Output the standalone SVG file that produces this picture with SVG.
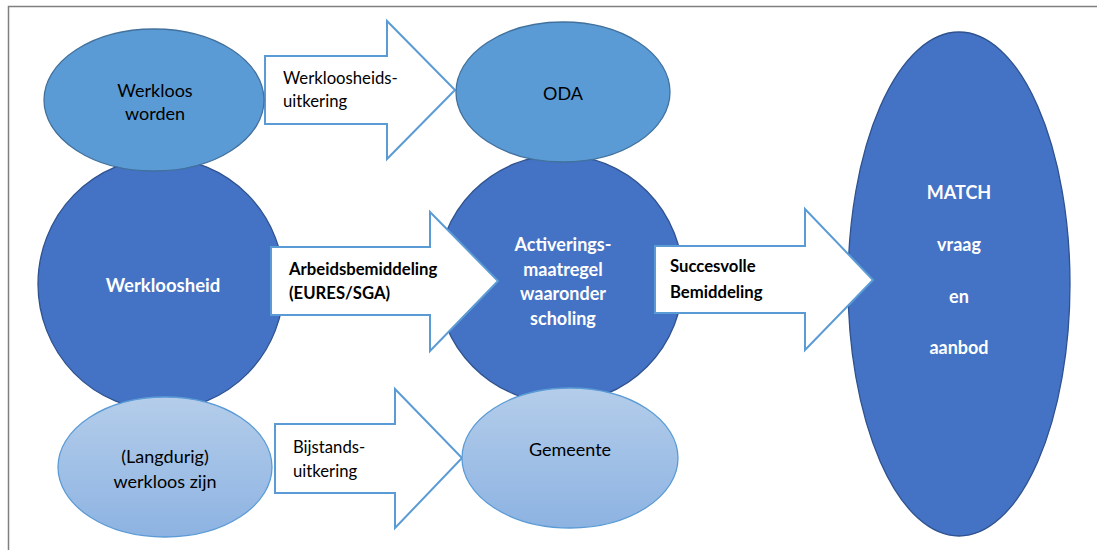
<svg xmlns="http://www.w3.org/2000/svg" width="1097" height="550" viewBox="0 0 1097 550">
<defs>
<linearGradient id="lg" x1="0" y1="0" x2="0" y2="1">
<stop offset="0" stop-color="#B4CDEA"/>
<stop offset="1" stop-color="#8DB3E2"/>
</linearGradient>
<style>
.mid{fill:#5B9BD5;stroke:#41719C;stroke-width:1.3}
.dark{fill:#4472C4;stroke:#2F528F;stroke-width:1.3}
.light{fill:url(#lg);stroke:#5B9BD5;stroke-width:1.3}
.arr{fill:#fff;stroke:#5B9BD5;stroke-width:2}
text{font-family:Lato,"Open Sans","Liberation Sans",sans-serif;font-size:18px}
.l{font-size:16.7px}
.c{text-anchor:middle}
.b{font-weight:bold}
.w{fill:#fff}
.k{fill:#000}
</style>
</defs>
<rect width="1097" height="550" fill="#fff"/>
<path d="M8.5 550V6.5H1097" fill="none" stroke="#7F7F7F" stroke-width="1.5"/>

<g id="werkloosheid">
<ellipse class="dark" cx="161" cy="284" rx="123" ry="126"/>
<text class="c b w" x="163" y="292" style="font-size:18.5px">Werkloosheid</text>
</g>
<g id="activering">
<ellipse class="dark" cx="560" cy="279" rx="123" ry="124"/>
<text class="c b w" x="563" y="251">Activerings-</text>
<text class="c b w" x="563" y="276">maatregel</text>
<text class="c b w" x="563" y="300">waaronder</text>
<text class="c b w" x="563" y="325">scholing</text>
</g>
<g id="match">
<ellipse class="dark" cx="959" cy="284" rx="111" ry="252"/>
<text class="c b w" x="959" y="199">MATCH</text>
<text class="c b w" x="959" y="251">vraag</text>
<text class="c b w" x="959" y="303">en</text>
<text class="c b w" x="959" y="354">aanbod</text>
</g>

<g id="connectors">
<g id="arrow-werkloosheidsuitkering">
<path class="arr" d="M265 56H387V21L455 90L387 159V124H265Z"/>
<text class="k l" x="283" y="84">Werkloosheids-</text>
<text class="k l" x="283" y="107">uitkering</text>
</g>
<g id="arrow-arbeidsbemiddeling">
<path class="arr" d="M271 247H430V212L498 281L430 351V315H271Z"/>
<text class="k b l" x="289" y="275">Arbeidsbemiddeling</text>
<text class="k b l" x="289" y="299">(EURES/SGA)</text>
</g>
<g id="arrow-bijstandsuitkering">
<path class="arr" d="M275 424H395V389L462 458L395 528V493H275Z"/>
<text class="k l" x="293" y="453">Bijstands-</text>
<text class="k l" x="293" y="477">uitkering</text>
</g>
<g id="arrow-succesvolle">
<path class="arr" d="M655 246H805V209L873 280L805 350V313H655Z"/>
<text class="k b l" x="670" y="272">Succesvolle</text>
<text class="k b l" x="670" y="298">Bemiddeling</text>
</g>
</g>

<g id="werkloos-worden">
<ellipse class="mid" cx="154" cy="100" rx="110" ry="71"/>
<text class="c k" x="155" y="97">Werkloos</text>
<text class="c k" x="155" y="120">worden</text>
</g>
<g id="oda">
<ellipse class="mid" cx="563" cy="92" rx="107" ry="70"/>
<text class="c k" x="563" y="100">ODA</text>
</g>
<g id="langdurig">
<ellipse class="light" cx="165" cy="467" rx="107" ry="70"/>
<text class="c k" x="165" y="463">(Langdurig)</text>
<text class="c k" x="165" y="488">werkloos zijn</text>
</g>
<g id="gemeente">
<ellipse class="light" cx="570" cy="458" rx="108" ry="70"/>
<text class="c k" x="570" y="456">Gemeente</text>
</g>
</svg>
